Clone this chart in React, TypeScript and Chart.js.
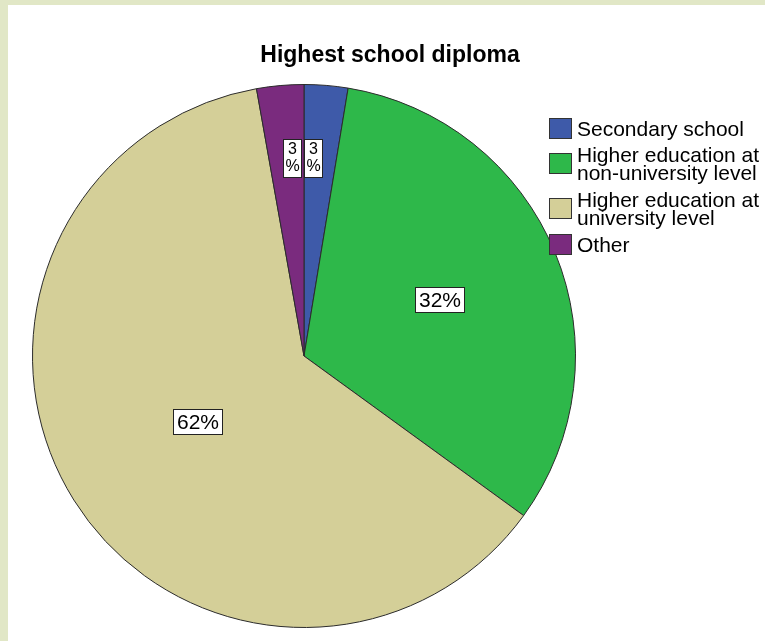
import React, { useEffect, useRef } from "react";
import { Chart, registerables } from "chart.js";

Chart.register(...registerables);

const chartTitle = "Highest school diploma";
const categories = [
  "Secondary school",
  "Higher education at non-university level",
  "Higher education at university level",
  "Other",
];
const legendLines = [
  ["Secondary school"],
  ["Higher education at", "non-university level"],
  ["Higher education at", "university level"],
  ["Other"],
];
const percentages = [2.6, 32.4, 62.2, 2.8];
const sliceColors = ["#3e5aa9", "#2eb84a", "#d4cf98", "#7a2b7e"];

const FONT = "'Liberation Sans', Arial, Helvetica, sans-serif";

const titlePlugin = {
  id: "customTitle",
  afterDraw(chart: any) {
    const ctx = chart.ctx;
    ctx.save();
    ctx.font = `bold 23px ${FONT}`;
    ctx.fillStyle = "#000";
    ctx.textAlign = "center";
    ctx.textBaseline = "alphabetic";
    ctx.fillText(chartTitle, 382, 57);
    ctx.restore();
  },
};

const legendPlugin = {
  id: "customLegend",
  afterDraw(chart: any) {
    const ctx = chart.ctx;
    ctx.save();
    ctx.font = `21px ${FONT}`;
    ctx.textAlign = "left";
    ctx.textBaseline = "alphabetic";
    const boxX = 541;
    const textX = 569;
    const lineH = 18;
    const itemStep = 26.7;
    let baseline = 130.7;
    legendLines.forEach((lines, i) => {
      const first = baseline;
      lines.forEach((ln, j) => {
        ctx.fillStyle = "#000";
        ctx.fillText(ln, textX, baseline);
        if (j < lines.length - 1) baseline += lineH;
      });
      const last = baseline;
      const centerY = (first + last) / 2 - 7.5;
      const bh = 21;
      const bw = 23;
      const top = Math.round(centerY - bh / 2);
      ctx.fillStyle = sliceColors[i];
      ctx.fillRect(boxX, top, bw, bh);
      ctx.strokeStyle = "#333";
      ctx.lineWidth = 1;
      ctx.strokeRect(boxX + 0.5, top + 0.5, bw - 1, bh - 1);
      baseline += itemStep;
    });
    ctx.restore();
  },
};

const labelPlugin = {
  id: "sliceLabels",
  afterDatasetsDraw(chart: any) {
    const ctx = chart.ctx;
    const meta = chart.getDatasetMeta(0);
    meta.data.forEach((arc: any, i: number) => {
      const { x, y, startAngle, endAngle, outerRadius } = arc.getProps(
        ["x", "y", "startAngle", "endAngle", "outerRadius"],
        true
      );
      const v = percentages[i];
      const mid = (startAngle + endAngle) / 2;
      ctx.save();
      ctx.fillStyle = "#000";
      ctx.textAlign = "center";
      ctx.textBaseline = "middle";
      if (v < 5) {
        ctx.font = `16px ${FONT}`;
        const w = 19;
        const h = 39;
        const r = outerRadius * 0.73;
        const cy = y + Math.sin(mid) * r;
        const top = -Math.PI / 2;
        const norm = (a: number) => {
          let d = (a - top) % (Math.PI * 2);
          if (d < 0) d += Math.PI * 2;
          return Math.min(d, Math.PI * 2 - d);
        };
        const useStart = norm(startAngle) <= norm(endAngle);
        const b = useStart ? startAngle : endAngle;
        const rx = x + ((cy - y) * Math.cos(b)) / Math.sin(b);
        const left = useStart ? Math.round(rx) : Math.round(rx - 2 - w);
        const tp = Math.round(cy - h / 2);
        ctx.fillStyle = "#fff";
        ctx.fillRect(left, tp, w, h);
        ctx.strokeStyle = "#222";
        ctx.lineWidth = 1;
        ctx.strokeRect(left + 0.5, tp + 0.5, w - 1, h - 1);
        ctx.fillStyle = "#000";
        const cx = left + w / 2;
        ctx.fillText(String(Math.round(v)), cx, tp + 11);
        ctx.fillText("%", cx, tp + 28);
      } else {
        ctx.font = `21px ${FONT}`;
        const f = v > 50 ? 0.46 : 0.54;
        const px = x + Math.cos(mid) * outerRadius * f;
        const py = y + Math.sin(mid) * outerRadius * f;
        const text = Math.round(v) + "%";
        const tw = ctx.measureText(text).width;
        const w = Math.round(tw + 8);
        const h = 26;
        const left = Math.round(px - w / 2);
        const tp = Math.round(py - h / 2);
        ctx.fillStyle = "#fff";
        ctx.fillRect(left, tp, w, h);
        ctx.strokeStyle = "#222";
        ctx.lineWidth = 1;
        ctx.strokeRect(left + 0.5, tp + 0.5, w - 1, h - 1);
        ctx.fillStyle = "#000";
        ctx.fillText(text, left + w / 2, tp + h / 2 + 1);
      }
      ctx.restore();
    });
  },
};

export default function App() {
  const canvasRef = useRef<HTMLCanvasElement | null>(null);

  useEffect(() => {
    const canvas = canvasRef.current;
    if (!canvas) return;
    const chart = new Chart(canvas, {
      type: "pie",
      data: {
        labels: categories,
        datasets: [
          {
            data: percentages,
            backgroundColor: sliceColors,
            borderColor: "#2b2b2b",
            borderWidth: 1,
          },
        ],
      },
      options: {
        responsive: false,
        animation: false,
        devicePixelRatio: 1,
        layout: { padding: { left: 24, right: 189, top: 79, bottom: 13 } },
        plugins: {
          legend: { display: false },
          title: { display: false },
          tooltip: { enabled: false },
        },
      },
      plugins: [labelPlugin, titlePlugin, legendPlugin],
    });
    return () => chart.destroy();
  }, []);

  return (
    <div
      style={{
        position: "fixed",
        left: 0,
        top: 0,
        width: 765,
        height: 641,
        background: "#e1e7c6",
        overflow: "hidden",
      }}
    >
      <div
        style={{
          position: "absolute",
          left: 8,
          top: 5,
          width: 757,
          height: 636,
          background: "#ffffff",
        }}
      >
        <canvas ref={canvasRef} width={757} height={636} style={{ display: "block" }} />
      </div>
    </div>
  );
}
